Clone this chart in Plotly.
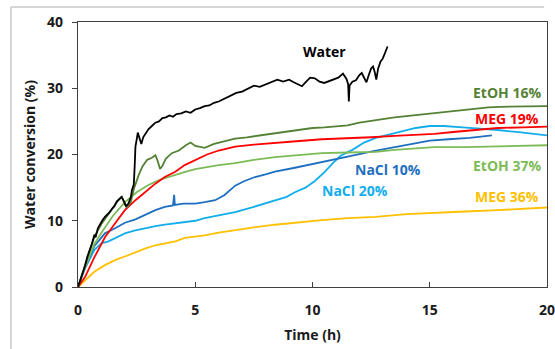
import plotly.graph_objects as go

# ---- data ----
water_t = [0, 0.1, 0.2, 0.3, 0.4, 0.5, 0.6, 0.7, 0.75, 0.85, 0.95, 1.05, 1.15, 1.25, 1.35, 1.45, 1.55, 1.65, 1.75, 1.85, 1.95, 2.05, 2.15, 2.25, 2.3, 2.38, 2.42, 2.45, 2.5, 2.55, 2.62, 2.7, 2.78, 2.9, 3.0, 3.15, 3.3, 3.45, 3.6, 3.75, 3.9, 4.05, 4.2, 4.4, 4.6, 4.8, 5.0, 5.2, 5.4, 5.6, 5.8, 6.0, 6.25, 6.5, 6.75, 7.0, 7.25, 7.5, 7.75, 8.0, 8.25, 8.5, 8.75, 9.0, 9.2, 9.4, 9.55, 9.7, 9.9, 10.1, 10.3, 10.5, 10.7, 10.9, 11.1, 11.3, 11.45, 11.52, 11.55, 11.58, 11.7, 11.85, 12.0, 12.1, 12.2, 12.3, 12.4, 12.5, 12.58, 12.65, 12.72, 12.8, 12.9, 13.0, 13.1, 13.2]
water_v = [0, 1.0, 2.2, 3.2, 4.6, 5.5, 6.6, 7.9, 7.5, 8.9, 9.6, 10.1, 10.6, 10.9, 11.3, 11.8, 12.2, 12.9, 13.3, 13.6, 13.0, 12.2, 12.6, 13.5, 14.6, 15.5, 18.5, 21.2, 22.2, 23.3, 22.5, 21.6, 22.6, 23.2, 23.8, 24.3, 24.8, 25.0, 25.5, 25.6, 25.9, 25.7, 26.1, 26.2, 26.5, 26.3, 26.8, 27.0, 27.3, 27.4, 27.8, 28.0, 28.4, 28.8, 29.3, 29.5, 29.9, 30.4, 30.2, 30.6, 31.0, 31.3, 31.0, 31.3, 30.9, 30.5, 30.3, 30.9, 31.6, 31.5, 31.0, 30.8, 31.1, 31.3, 31.6, 32.2, 31.4, 30.6, 28.0, 30.4, 31.0, 31.2, 32.0, 32.3, 31.5, 30.9, 32.0, 33.0, 33.3, 32.5, 31.3, 33.0, 34.0, 34.5, 35.4, 36.3]

etoh16_t = [0, 0.2, 0.5, 0.7, 1.0, 1.35, 1.7, 1.88, 2.0, 2.1, 2.25, 2.4, 2.5, 2.6, 2.75, 2.95, 3.15, 3.3, 3.4, 3.5, 3.6, 3.75, 4.0, 4.3, 4.6, 4.8, 5.0, 5.4, 5.8, 6.2, 6.7, 7.2, 7.6, 8.0, 8.5, 9.0, 9.5, 10.0, 10.5, 11.0, 11.5, 12.0, 12.5, 13.0, 13.5, 14.0, 14.5, 15.0, 15.5, 16.0, 16.5, 17.0, 17.5, 18.0, 19.0, 20.0]
etoh16_v = [0, 2.1, 5.4, 7.6, 9.5, 11.3, 13.0, 13.6, 12.4, 12.1, 12.8, 15.0, 16.2, 17.0, 18.2, 19.2, 19.5, 19.9, 19.0, 17.8, 18.3, 19.4, 20.2, 20.6, 21.4, 21.8, 21.3, 21.0, 21.6, 22.0, 22.4, 22.6, 22.8, 23.0, 23.2, 23.5, 23.8, 24.0, 24.1, 24.2, 24.4, 24.8, 25.1, 25.3, 25.6, 25.8, 26.0, 26.1, 26.3, 26.6, 26.8, 27.0, 27.1, 27.2, 27.2, 27.3]

meg19_t = [0, 0.3, 0.7, 1.15, 1.6, 2.0, 2.45, 2.85, 3.3, 3.7, 4.15, 4.55, 5.0, 5.5, 6.0, 6.7, 7.5, 8.4, 9.3, 10.4, 11.5, 12.5, 13.5, 14.5, 15.2, 16.0, 17.0, 17.9, 19.0, 20.0]
meg19_v = [0, 1.5, 4.5, 7.5, 9.7, 11.6, 13.1, 14.3, 15.6, 16.6, 17.4, 18.4, 19.2, 20.0, 20.6, 21.2, 21.5, 21.7, 22.0, 22.3, 22.4, 22.6, 22.8, 23.0, 23.1, 23.4, 23.7, 24.0, 24.1, 24.2]

etoh37_t = [0, 0.3, 0.7, 1.0, 1.5, 2.0, 2.5, 3.0, 3.5, 4.0, 4.5, 5.0, 5.5, 6.0, 6.7, 7.5, 8.4, 9.3, 10.4, 11.5, 12.7, 13.5, 14.5, 15.2, 16.5, 17.9, 19.0, 20.0]
etoh37_v = [0, 3.0, 6.5, 8.2, 10.8, 12.8, 14.3, 15.4, 16.2, 16.8, 17.3, 17.8, 18.1, 18.4, 18.7, 19.2, 19.6, 19.9, 20.2, 20.3, 20.4, 20.7, 21.0, 21.1, 21.1, 21.2, 21.3, 21.4]

nacl10_t = [0, 0.3, 0.7, 1.15, 1.6, 2.0, 2.45, 2.85, 3.3, 3.7, 4.05, 4.1, 4.13, 4.5, 5.0, 5.4, 5.85, 6.25, 6.5, 6.7, 7.1, 7.55, 8.0, 8.4, 9.25, 10.1, 10.4, 11.0, 11.8, 12.6, 13.5, 14.3, 15.0, 15.8, 16.7, 17.65]
nacl10_v = [0, 3.0, 6.2, 8.1, 8.9, 9.7, 10.2, 10.9, 11.6, 12.1, 12.3, 13.9, 12.4, 12.6, 12.6, 12.8, 13.1, 13.9, 14.6, 15.3, 16.0, 16.6, 17.0, 17.4, 18.0, 18.6, 18.8, 19.3, 19.9, 20.5, 21.1, 21.6, 22.1, 22.3, 22.5, 22.9]

nacl20_t = [0, 0.3, 0.7, 1.0, 1.3, 1.6, 2.0, 2.4, 2.85, 3.3, 3.7, 4.1, 4.55, 5.0, 5.4, 6.0, 6.7, 7.5, 8.4, 8.9, 9.25, 9.7, 10.1, 10.5, 10.9, 11.2, 11.7, 12.2, 12.7, 13.5, 14.4, 15.0, 15.6, 16.4, 17.2, 17.9, 18.7, 19.4, 20.0]
nacl20_v = [0, 2.8, 5.6, 6.6, 6.9, 7.4, 8.1, 8.5, 8.9, 9.2, 9.4, 9.6, 9.8, 10.0, 10.4, 10.8, 11.3, 12.1, 13.1, 13.6, 14.3, 15.0, 16.0, 17.3, 18.8, 19.8, 20.7, 21.8, 22.5, 23.2, 24.0, 24.3, 24.3, 24.1, 23.9, 23.7, 23.4, 23.1, 22.9]

meg36_t = [0, 0.3, 0.7, 1.15, 1.6, 2.0, 2.45, 2.85, 3.3, 3.7, 4.15, 4.55, 5.0, 5.4, 6.0, 6.7, 7.5, 8.4, 9.4, 10.4, 11.5, 12.7, 14.0, 15.0, 16.5, 17.9, 19.0, 20.0]
meg36_v = [0, 1.0, 2.3, 3.3, 4.1, 4.6, 5.3, 5.8, 6.3, 6.6, 6.9, 7.4, 7.6, 7.8, 8.2, 8.6, 9.0, 9.4, 9.8, 10.1, 10.4, 10.6, 11.0, 11.2, 11.4, 11.6, 11.8, 12.0]

x_ticks = [0, 5, 10, 15, 20]
y_ticks = [0, 10, 20, 30, 40]

labels = ["Water", "EtOH 16%", "MEG 19%", "EtOH 37%", "NaCl 10%", "NaCl 20%", "MEG 36%"]
label_x = [10.5, 18.3, 18.3, 18.3, 13.2, 11.8, 18.3]
label_y = [35.5, 29.4, 25.5, 18.4, 17.7, 14.5, 13.6]

colors = ["#000000", "#548235", "#FF0000", "#7DBB57", "#1F6FC1", "#12ADEB", "#FFC000"]

series = [
    (water_t, water_v),
    (etoh16_t, etoh16_v),
    (meg19_t, meg19_v),
    (etoh37_t, etoh37_v),
    (nacl10_t, nacl10_v),
    (nacl20_t, nacl20_v),
    (meg36_t, meg36_v),
]

FONT = "Open Sans"

fig = go.Figure()
# draw order: back to front
order = [6, 5, 4, 3, 2, 1, 0]
for i in order:
    t, v = series[i]
    fig.add_trace(go.Scatter(x=t, y=v, mode="lines", name=labels[i],
                             line=dict(color=colors[i], width=1.8)))

for i, txt in enumerate(labels):
    fig.add_annotation(x=label_x[i], y=label_y[i], text="<b>%s</b>" % txt,
                       showarrow=False, xanchor="center", yanchor="middle",
                       font=dict(family=FONT, size=14, color=colors[i]))

# outer light grey frame (top and left)
fig.add_shape(type="line", xref="paper", yref="paper", x0=-0.143, x1=0.994, y0=1.057, y1=1.057,
              line=dict(color="#C8C8C8", width=1.5))
fig.add_shape(type="line", xref="paper", yref="paper", x0=-0.143, x1=-0.143, y0=1.057, y1=-0.25,
              line=dict(color="#C8C8C8", width=1.5))

fig.update_layout(
    width=555, height=349,
    margin=dict(l=78, r=8, t=22, b=62, autoexpand=False),
    paper_bgcolor="white", plot_bgcolor="white",
    showlegend=False,
    font=dict(family=FONT, size=14, color="#1a1a1a"),
    xaxis=dict(range=[0, 20], tickvals=x_ticks, ticktext=[str(v) for v in x_ticks],
               ticks="inside", ticklen=5, tickcolor="#404040",
               showline=True, linecolor="#404040", linewidth=1.3, mirror=True,
               showgrid=False, zeroline=False, ticklabelstandoff=10,
               ticklabeloverflow="allow", automargin=False,
               tickfont=dict(family=FONT, size=14, weight="bold"),
               title=dict(text="<b>Time (h)</b>", standoff=12,
                          font=dict(family=FONT, size=14))),
    yaxis=dict(range=[0, 40], tickvals=y_ticks, ticktext=[str(v) for v in y_ticks],
               ticks="outside", ticklen=5, tickcolor="#404040",
               showline=True, linecolor="#404040", linewidth=1.3, mirror=True,
               showgrid=False, zeroline=False, ticklabelstandoff=6,
               automargin=False,
               tickfont=dict(family=FONT, size=14, weight="bold"),
               title=dict(text="<b>Water conversion (%)</b>", standoff=8,
                          font=dict(family=FONT, size=14))),
)

fig.write_html("out.html")
